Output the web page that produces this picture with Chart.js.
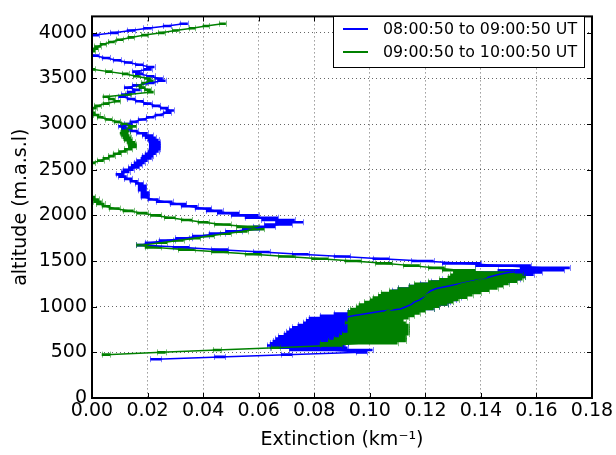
<!DOCTYPE html>
<html>
<head>
<meta charset="utf-8">
<script src="https://cdn.jsdelivr.net/npm/chart.js@4.4.1/dist/chart.umd.min.js"></script>
<style>
    html, body { margin: 0; padding: 0; background: #fff; }
    #wrap { width: 616px; height: 455px; }
</style>
</head>
<body>
<div id="wrap"><canvas id="profileChart" width="616" height="455"></canvas></div>
<script>
// altitude grid (m a.s.l.)
const altitude = [
    425, 450, 475, 500, 525, 550, 575, 600,
    625, 650, 675, 700, 725, 750, 775, 800,
    825, 850, 875, 900, 925, 950, 975, 1000,
    1025, 1050, 1075, 1100, 1125, 1150, 1175, 1200,
    1225, 1250, 1275, 1300, 1325, 1350, 1375, 1400,
    1425, 1450, 1475, 1500, 1525, 1550, 1575, 1600,
    1625, 1650, 1675, 1700, 1725, 1750, 1775, 1800,
    1825, 1850, 1875, 1900, 1925, 1950, 1975, 2000,
    2025, 2050, 2075, 2100, 2125, 2150, 2175, 2200,
    2225, 2250, 2275, 2300, 2325, 2350, 2375, 2400,
    2425, 2450, 2475, 2500, 2525, 2550, 2575, 2600,
    2625, 2650, 2675, 2700, 2725, 2750, 2775, 2800,
    2825, 2850, 2875, 2900, 2925, 2950, 2975, 3000,
    3025, 3050, 3075, 3100, 3125, 3150, 3175, 3200,
    3225, 3250, 3275, 3300, 3325, 3350, 3375, 3400,
    3425, 3450, 3475, 3500, 3525, 3550, 3575, 3600,
    3625, 3650, 3675, 3700, 3725, 3750, 3775, 3800,
    3825, 3850, 3875, 3900, 3925, 3950, 3975, 4000,
    4025, 4050, 4075, 4100
];

// 08:00:50 - 09:00:50 UT
const extFirst = [
    0.023, 0.046, 0.070, 0.097, 0.086, 0.078, 0.077, 0.078,
    0.079, 0.080, 0.081, 0.082, 0.083, 0.084, 0.085, 0.087,
    0.088, 0.089, 0.090, 0.094, 0.099, 0.104, 0.111, 0.113,
    0.115, 0.116, 0.118, 0.119, 0.120, 0.121, 0.122, 0.124,
    0.128, 0.132, 0.136, 0.140, 0.143, 0.146, 0.150, 0.158,
    0.163, 0.148, 0.133, 0.119, 0.104, 0.090, 0.075, 0.061,
    0.046, 0.032, 0.018, 0.021, 0.027, 0.033, 0.039, 0.045,
    0.051, 0.057, 0.062, 0.067, 0.071, 0.067, 0.061, 0.055,
    0.049, 0.044, 0.040, 0.035, 0.031, 0.026, 0.022, 0.019,
    0.019, 0.019, 0.018, 0.018, 0.018, 0.017, 0.015, 0.013,
    0.011, 0.010, 0.012, 0.013, 0.015, 0.016, 0.017, 0.018,
    0.0195, 0.020, 0.021, 0.022, 0.0225, 0.0225, 0.0225, 0.0225,
    0.022, 0.021, 0.020, 0.018, 0.015, 0.012, 0.011, 0.013,
    0.015, 0.018, 0.021, 0.024, 0.027, 0.028, 0.026, 0.023,
    0.020, 0.017, 0.014, 0.011, 0.012, 0.014, 0.016, 0.013,
    0.016, 0.021, 0.025, 0.024, 0.021, 0.017, 0.016, 0.020,
    0.021, 0.017, 0.013, 0.009, 0.005, 0.001, -0.003, -0.005,
    -0.005, -0.005, -0.005, -0.005, -0.005, -0.004, 0.001, 0.008,
    0.014, 0.020, 0.027, 0.033
];
const errFirst = [
    0.002, 0.002, 0.002, 0.002, 0.015, 0.014, 0.014, 0.014,
    0.014, 0.014, 0.014, 0.013, 0.013, 0.013, 0.013, 0.013,
    0.012, 0.012, 0.012, 0.012, 0.012, 0.012, 0.012, 0.012,
    0.013, 0.013, 0.013, 0.014, 0.014, 0.014, 0.014, 0.014,
    0.014, 0.014, 0.014, 0.014, 0.013, 0.013, 0.012, 0.012,
    0.009, 0.010, 0.007, 0.004, 0.003, 0.003, 0.003, 0.003,
    0.003, 0.003, 0.002, 0.002, 0.003, 0.003, 0.003, 0.003,
    0.003, 0.003, 0.004, 0.005, 0.005, 0.006, 0.006, 0.005,
    0.004, 0.003, 0.003, 0.003, 0.003, 0.003, 0.002, 0.0015,
    0.0015, 0.0015, 0.0015, 0.0015, 0.0015, 0.0015, 0.0015, 0.0015,
    0.0015, 0.0015, 0.0015, 0.002, 0.002, 0.002, 0.002, 0.002,
    0.002, 0.002, 0.002, 0.002, 0.002, 0.002, 0.002, 0.002,
    0.002, 0.002, 0.002, 0.002, 0.0015, 0.0015, 0.0015, 0.0015,
    0.0015, 0.0015, 0.0015, 0.0015, 0.0015, 0.0015, 0.0015, 0.0015,
    0.0015, 0.0015, 0.0015, 0.0015, 0.0015, 0.0015, 0.0015, 0.0015,
    0.0015, 0.0015, 0.0015, 0.0015, 0.0015, 0.0015, 0.0015, 0.0015,
    0.0015, 0.0015, 0.0015, 0.0015, 0.0015, 0.0015, 0.0015, 0.0015,
    0.0015, 0.0015, 0.0015, 0.0015, 0.0015, 0.0015, 0.0015, 0.0015,
    0.0015, 0.0015, 0.0015, 0.0015
];

// 09:00:50 - 10:00:50 UT
const extSecond = [
    null, null, 0.005, 0.025, 0.045, 0.066, 0.086, 0.096,
    0.099, 0.100, 0.101, 0.102, 0.103, 0.103, 0.103, 0.103,
    0.102, 0.102, 0.103, 0.104, 0.105, 0.106, 0.108, 0.110,
    0.112, 0.114, 0.116, 0.118, 0.120, 0.122, 0.125, 0.128,
    0.131, 0.133, 0.137, 0.140, 0.142, 0.142, 0.141, 0.132,
    0.124, 0.115, 0.105, 0.094, 0.082, 0.070, 0.058, 0.046,
    0.034, 0.022, 0.018, 0.025, 0.031, 0.037, 0.042, 0.048,
    0.054, 0.059, 0.056, 0.047, 0.040, 0.034, 0.028, 0.023,
    0.018, 0.013, 0.008, 0.005, 0.003, 0.002, 0.001, 0.000,
    -0.004, -0.006, -0.006, -0.006, -0.006, -0.006, -0.006, -0.006,
    -0.006, -0.006, -0.006, -0.006, -0.005, -0.002, 0.000, 0.003,
    0.005, 0.007, 0.009, 0.011, 0.013, 0.0145, 0.0145, 0.014,
    0.013, 0.0125, 0.012, 0.0115, 0.012, 0.013, 0.0145, 0.012,
    0.009, 0.006, 0.003, 0.0015, 0.000, -0.001, 0.0005, 0.002,
    0.005, 0.009, 0.007, 0.005, 0.013, 0.021, 0.020, 0.018,
    0.017, 0.019, 0.021, 0.020, 0.016, 0.012, 0.006, 0.000,
    -0.004, -0.006, -0.006, -0.006, -0.006, -0.004, -0.002, 0.000,
    0.001, 0.002, 0.004, 0.007, 0.010, 0.014, 0.019, 0.025,
    0.030, 0.036, 0.041, 0.047
];
const errSecond = [
    null, null, 0.0015, 0.0015, 0.0015, 0.0015, 0.004, 0.014,
    0.014, 0.013, 0.012, 0.012, 0.011, 0.011, 0.011, 0.011,
    0.011, 0.010, 0.011, 0.012, 0.013, 0.014, 0.015, 0.015,
    0.016, 0.016, 0.016, 0.017, 0.017, 0.018, 0.018, 0.018,
    0.017, 0.017, 0.016, 0.015, 0.014, 0.013, 0.011, 0.006,
    0.003, 0.003, 0.003, 0.003, 0.003, 0.003, 0.003, 0.003,
    0.003, 0.003, 0.002, 0.002, 0.002, 0.002, 0.002, 0.002,
    0.002, 0.003, 0.004, 0.003, 0.002, 0.002, 0.002, 0.002,
    0.002, 0.002, 0.002, 0.0015, 0.0015, 0.0015, 0.0015, 0.0012,
    0.0012, 0.0012, 0.0012, 0.0012, 0.0012, 0.0012, 0.0012, 0.0012,
    0.0012, 0.0012, 0.0012, 0.0012, 0.0012, 0.0012, 0.0012, 0.0012,
    0.0012, 0.0012, 0.0015, 0.0015, 0.0015, 0.0015, 0.0015, 0.0015,
    0.0015, 0.0015, 0.0015, 0.0015, 0.0015, 0.0015, 0.0015, 0.0015,
    0.0012, 0.0012, 0.0012, 0.0012, 0.0012, 0.0012, 0.0012, 0.0012,
    0.0012, 0.0012, 0.0012, 0.0012, 0.0012, 0.0012, 0.0012, 0.0012,
    0.0012, 0.0012, 0.0012, 0.0012, 0.0012, 0.0012, 0.0012, 0.0012,
    0.0012, 0.0012, 0.0012, 0.0012, 0.0012, 0.0012, 0.0012, 0.0012,
    0.0012, 0.0012, 0.0012, 0.0012, 0.0012, 0.0012, 0.0012, 0.0012,
    0.0012, 0.0012, 0.0012, 0.0012
];

const seriesLabels = ['08:00:50 to 09:00:50 UT', '09:00:50 to 10:00:50 UT'];
const seriesColors = ['#0000ff', '#008000'];
const xTicks = [0, 0.02, 0.04, 0.06, 0.08, 0.10, 0.12, 0.14, 0.16, 0.18];
const yTicks = [0, 500, 1000, 1500, 2000, 2500, 3000, 3500, 4000];

Chart.defaults.font.family = '"DejaVu Sans", sans-serif';
Chart.defaults.color = '#000';

function toPoints(ext, err) {
    return altitude
        .map((a, i) => ({ x: ext[i], y: a, err: err[i] }))
        .filter(p => p.x !== null);
}

// horizontal error bars with caps; all bars go under both lines
const errorBars = {
    id: 'errorBars',
    beforeDatasetsDraw(chart) {
        const { ctx, chartArea: a, scales: { x, y } } = chart;
        ctx.save();
        ctx.beginPath();
        ctx.rect(a.left, a.top, a.right - a.left, a.bottom - a.top);
        ctx.clip();
        chart.data.datasets.forEach(ds => {
            ctx.strokeStyle = ds.borderColor;
            ctx.globalAlpha = 1;
            ctx.lineWidth = 2.6;
            ctx.beginPath();
            ds.data.forEach(p => {
                const py = y.getPixelForValue(p.y);
                ctx.moveTo(x.getPixelForValue(p.x - p.err), py);
                ctx.lineTo(x.getPixelForValue(p.x + p.err), py);
            });
            ctx.stroke();
            ctx.globalAlpha = 0.5;
            ctx.lineWidth = 1;
            ctx.beginPath();
            ds.data.forEach(p => {
                const py = y.getPixelForValue(p.y);
                [p.x - p.err, p.x + p.err].forEach(v => {
                    const px = Math.round(x.getPixelForValue(v)) + 0.5;
                    ctx.moveTo(px, py - 3);
                    ctx.lineTo(px, py + 3);
                });
            });
            ctx.stroke();
        });
        ctx.restore();
    }
};

// frame, inward ticks and boxed legend
const frameAndLegend = {
    id: 'frameAndLegend',
    afterDatasetsDraw(chart) {
        const { ctx, chartArea: a, scales: { x, y } } = chart;
        ctx.save();
        ctx.strokeStyle = '#000';
        ctx.lineWidth = 1;
        ctx.beginPath();
        xTicks.forEach(v => {
            const px = Math.round(x.getPixelForValue(v)) + 0.5;
            ctx.moveTo(px, a.bottom); ctx.lineTo(px, a.bottom - 5);
            ctx.moveTo(px, a.top); ctx.lineTo(px, a.top + 5);
        });
        yTicks.forEach(v => {
            const py = Math.round(y.getPixelForValue(v)) + 0.5;
            ctx.moveTo(a.left, py); ctx.lineTo(a.left + 5, py);
            ctx.moveTo(a.right, py); ctx.lineTo(a.right - 5, py);
        });
        ctx.stroke();
        ctx.lineWidth = 2;
        ctx.strokeRect(a.left, a.top, a.right - a.left, a.bottom - a.top);

        // legend box
        const bx = 333, by = 16, bw = 251, bh = 51;
        ctx.fillStyle = '#fff';
        ctx.fillRect(bx, by, bw, bh);
        ctx.lineWidth = 1;
        ctx.strokeStyle = '#000';
        ctx.strokeRect(bx + 0.5, by + 0.5, bw, bh);
        ctx.font = '15.8px "DejaVu Sans"';
        ctx.textBaseline = 'middle';
        ctx.fillStyle = '#000';
        seriesLabels.forEach((label, i) => {
            const ly = by + 13 + i * 23;
            ctx.strokeStyle = seriesColors[i];
            ctx.lineWidth = 2;
            ctx.beginPath();
            ctx.moveTo(bx + 10, ly);
            ctx.lineTo(bx + 35, ly);
            ctx.stroke();
            ctx.fillText(label, bx + 50, ly + 1);
        });
        ctx.restore();
    }
};

const tickFont = { size: 19 };

new Chart(document.getElementById('profileChart'), {
    type: 'scatter',
    data: {
        datasets: [
            {
                label: seriesLabels[0],
                data: toPoints(extFirst, errFirst),
                borderColor: seriesColors[0],
                backgroundColor: seriesColors[0],
                showLine: true,
                borderWidth: 1.5,
                pointRadius: 0,
                clip: 0,
                order: 1
            },
            {
                label: seriesLabels[1],
                data: toPoints(extSecond, errSecond),
                borderColor: seriesColors[1],
                backgroundColor: seriesColors[1],
                showLine: true,
                borderWidth: 1.5,
                pointRadius: 0,
                clip: 0,
                order: 0
            }
        ]
    },
    options: {
        responsive: false,
        animation: false,
        devicePixelRatio: 1,
        layout: { padding: { left: 0, right: 24, top: 8, bottom: 0 } },
        plugins: { legend: { display: false }, tooltip: { enabled: false } },
        scales: {
            x: {
                type: 'linear',
                min: 0,
                max: 0.18,
                afterBuildTicks: s => { s.ticks = xTicks.map(v => ({ value: v })); },
                afterFit: s => { s.height = 57; },
                ticks: { font: tickFont, padding: 2, maxRotation: 0, callback: v => v.toFixed(2) },
                grid: { color: 'rgba(0,0,0,0.6)', lineWidth: 1, drawTicks: false },
                border: { display: false, dash: [1, 3] },
                title: { display: true, text: 'Extinction (km\u207B\u00B9)', font: { size: 19 }, padding: { top: 0, bottom: 4 } }
            },
            y: {
                type: 'linear',
                min: 0,
                max: 4180,
                afterBuildTicks: s => { s.ticks = yTicks.map(v => ({ value: v })); },
                afterFit: s => { s.width = 92; },
                ticks: { font: tickFont, padding: 5, callback: v => String(v) },
                grid: { color: 'rgba(0,0,0,0.6)', lineWidth: 1, drawTicks: false },
                border: { display: false, dash: [1, 3] },
                title: { display: true, text: 'altitude (m.a.s.l)', font: { size: 19 }, padding: { top: 10, bottom: 0 } }
            }
        }
    },
    plugins: [errorBars, frameAndLegend]
});
</script>
</body>
</html>
